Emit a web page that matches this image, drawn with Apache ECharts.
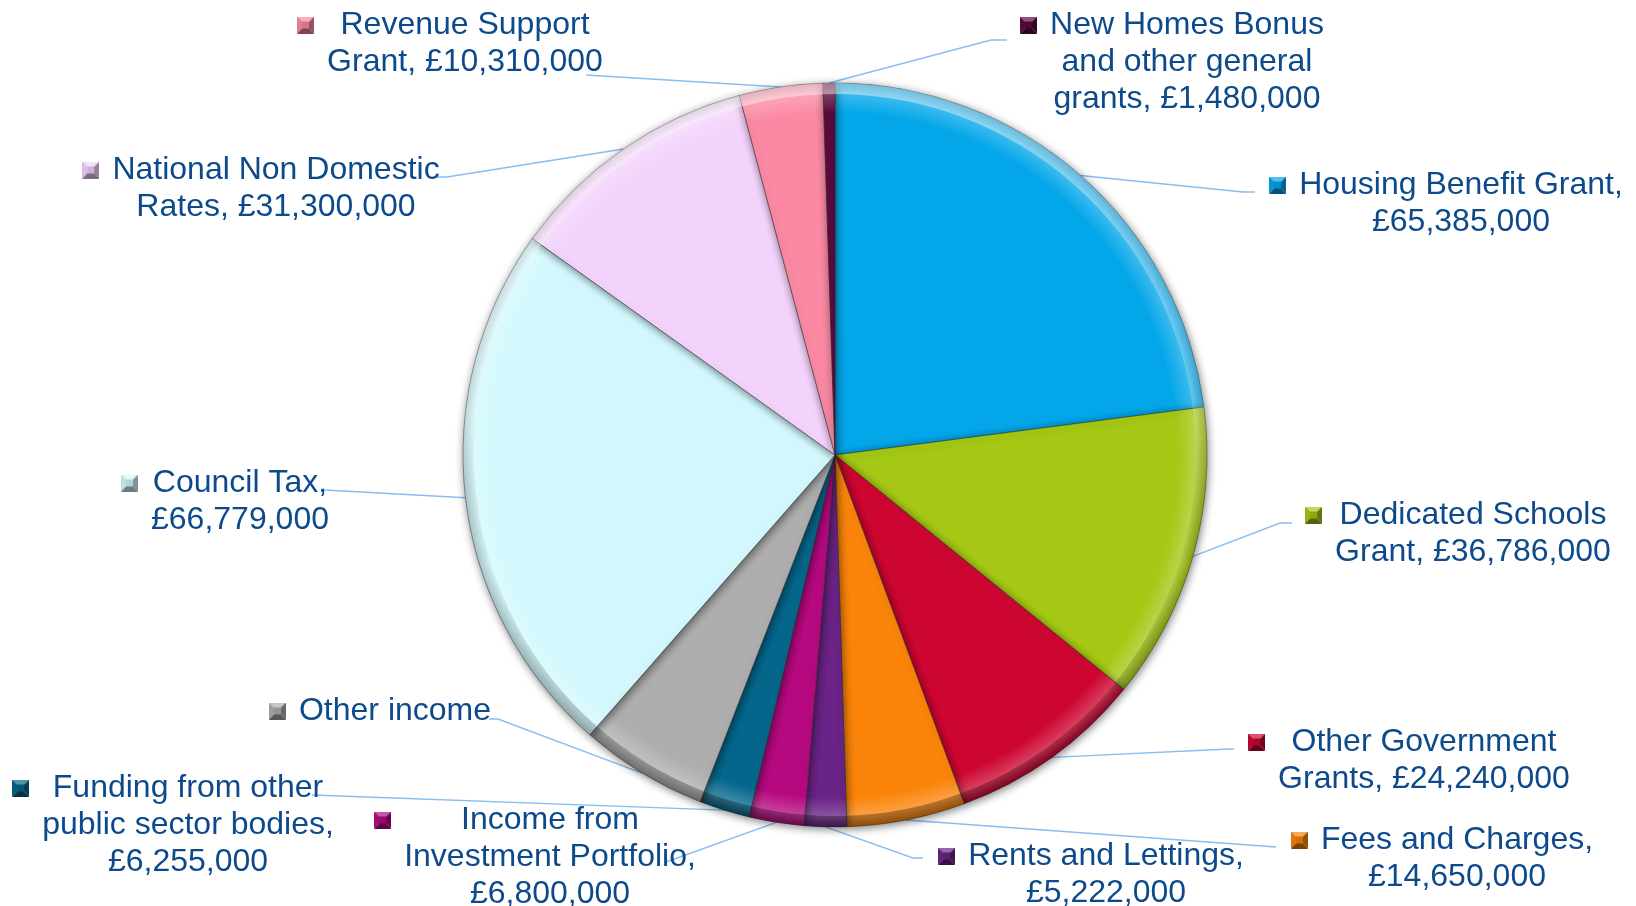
<!DOCTYPE html>
<html>
<head>
<meta charset="utf-8">
<title>Income sources</title>
<script src="https://cdn.jsdelivr.net/npm/echarts@6/dist/echarts.min.js"></script>
<style>
  html, body { margin: 0; padding: 0; background: #fff; }
  #chart { width: 1636px; height: 906px; }
</style>
</head>
<body>
<div id="chart"></div>
<script>
// slices, clockwise from 12 o'clock
const categories = [
  'Housing Benefit Grant',
  'Dedicated Schools Grant',
  'Other Government Grants',
  'Fees and Charges',
  'Rents and Lettings',
  'Income from Investment Portfolio',
  'Funding from other public sector bodies',
  'Other income',
  'Council Tax',
  'National Non Domestic Rates',
  'Revenue Support Grant',
  'New Homes Bonus and other general grants'
];
const amounts = [65385000, 36786000, 24240000, 14650000, 5222000, 6800000, 6255000, 15800000, 66779000, 31300000, 10310000, 1480000];
// "Other income" has no value printed in the label
const showAmount = [true, true, true, true, true, true, true, false, true, true, true, true];

const colors = ['#03A6E9', '#A4C814', '#CD0631', '#FA840A', '#6A2386', '#B6097F',
                '#05668C', '#AEAEAE', '#D2F8FD', '#F3D3FB', '#FB89A4', '#5C0A3E'];

// words on each label line
const wrap = [[3, 1], [2, 2], [2, 2], [3, 1], [3, 1], [2, 2, 1], [3, 3, 1], [2], [2, 1], [3, 2], [2, 2], [3, 3, 2]];

// label spot: text centre x, first line y, leader end x, leader end y, horizontal run
const spots = [
  [1461, 182, 1255, 192, 12],
  [1473, 512, 1292, 523, 12],
  [1424, 739, 1234, 749, 5],
  [1457, 837, 1276, 847, 0],
  [1106, 853, 923, 858, 10],
  [550, 817, 666, 862, 0],
  [188, 785, 312, 795, 0],
  [395, 708, 489, 719, 9],
  [240, 480, 325, 490, 0],
  [276, 167, 437, 177, 10],
  [465, 22, 586, 75, 0],
  [1187, 22, 1007, 40, 16]
];

const CX = 835, CY = 455, R = 372;
const LINE_H = 37;
const TEXT_SHIFT = 3;
const TEXT_COLOR = '#0D4A8C';

function shade(hex, k) {
  const n = parseInt(hex.slice(1), 16);
  let rgb = [(n >> 16) & 255, (n >> 8) & 255, n & 255];
  rgb = rgb.map(v => Math.round(k >= 0 ? v + (255 - v) * k : v * (1 + k)));
  return 'rgb(' + rgb.join(',') + ')';
}

// little bevelled square used as the legend key in each label
function bevelIcon(hex) {
  const c = document.createElement('canvas');
  c.width = 17; c.height = 17;
  const g = c.getContext('2d');
  const tri = (pts, col) => {
    g.fillStyle = col;
    g.beginPath();
    g.moveTo(pts[0], pts[1]); g.lineTo(pts[2], pts[3]); g.lineTo(pts[4], pts[5]);
    g.closePath(); g.fill();
  };
  tri([0, 0, 17, 0, 8.5, 8.5], shade(hex, 0.3));
  tri([0, 0, 0, 17, 8.5, 8.5], shade(hex, -0.1));
  tri([17, 0, 17, 17, 8.5, 8.5], shade(hex, -0.4));
  tri([0, 17, 17, 17, 8.5, 8.5], shade(hex, -0.5));
  g.fillStyle = shade(hex, -0.15);
  g.fillRect(5, 5, 7, 7);
  return c;
}

function money(v) {
  return '£' + String(v).replace(/\B(?=(\d{3})+(?!\d))/g, ',');
}

const rich = {
  t: { align: 'center', color: TEXT_COLOR, fontSize: 32, lineHeight: LINE_H, fontFamily: 'Liberation Sans, Arial, sans-serif' },
  g: { width: 13, align: 'left', lineHeight: LINE_H },
  l: { width: 30, align: 'left', lineHeight: LINE_H },
  s: { width: 30, align: 'right', lineHeight: LINE_H }
};
colors.forEach((c, i) => {
  rich['m' + i] = { width: 17, height: 17, align: 'left', verticalAlign: 'middle', backgroundColor: { image: bevelIcon(c) } };
});

function labelText(p) {
  const i = p.dataIndex;
  let words = categories[i].split(' ');
  if (showAmount[i]) {
    words[words.length - 1] += ',';
    words.push(money(amounts[i]));
  }
  const lines = [];
  let k = 0;
  wrap[i].forEach(n => { lines.push(words.slice(k, k + n).join(' ')); k += n; });
  return lines.map((ln, j) => j === 0
    ? '{m' + i + '|}{g|}{t|' + ln + '}{s|}'
    : '{l|}{t|' + ln + '}{s|}').join('\n');
}

const pieData = categories.map((name, i) => ({
  name: name,
  value: amounts[i],
  itemStyle: {
    color: new echarts.graphic.RadialGradient(CX, CY, R, [
      { offset: 0, color: colors[i] },
      { offset: 0.92, color: colors[i] },
      { offset: 0.97, color: shade(colors[i], 0.22) },
      { offset: 1, color: shade(colors[i], -0.15) }
    ], true)
  }
}));

const chart = echarts.init(document.getElementById('chart'), null, { renderer: 'canvas' });

chart.setOption({
  backgroundColor: '#ffffff',
  animation: false,
  series: [
    {
      type: 'pie',
      center: [CX, CY],
      radius: R,
      startAngle: 90,
      clockwise: true,
      avoidLabelOverlap: false,
      data: pieData,
      itemStyle: {
        borderColor: 'rgba(40,40,40,0.45)',
        borderWidth: 1,
        shadowBlur: 8,
        shadowColor: 'rgba(0,0,0,0.5)',
        shadowOffsetX: 1,
        shadowOffsetY: 2
      },
      label: {
        show: true,
        position: 'outside',
        formatter: labelText,
        lineHeight: LINE_H,
        rich: rich
      },
      labelLine: {
        show: true,
        length: 10,
        length2: 10,
        lineStyle: { color: '#86BEF3', width: 1.4 }
      },
      labelLayout: function (p) {
        const i = p.dataIndex;
        const s = spots[i];
        const n = wrap[i].length;
        const onRight = s[0] > CX;
        const elbow = [s[2] + (onRight ? -s[4] : s[4]), s[3]];
        const anchor = p.labelLinePoints ? p.labelLinePoints[0] : elbow;
        return {
          x: s[0],
          y: s[1] + TEXT_SHIFT + (n - 1) * LINE_H / 2,
          align: 'center',
          verticalAlign: 'middle',
          labelLinePoints: [anchor, elbow, [s[2], s[3]]]
        };
      },
      emphasis: { disabled: true }
    },
    {
      // rim highlight / shade giving the bevelled edge
      type: 'pie',
      silent: true,
      center: [CX, CY],
      radius: [R - 11, R],
      startAngle: 90,
      clockwise: true,
      label: { show: false },
      labelLine: { show: false },
      data: categories.map((name, i) => ({ name: name, value: amounts[i] })),
      itemStyle: {
        borderWidth: 0,
        color: new echarts.graphic.LinearGradient(0, CY - R, 0, CY + R, [
          { offset: 0, color: 'rgba(255,255,255,0.45)' },
          { offset: 0.45, color: 'rgba(255,255,255,0.18)' },
          { offset: 0.65, color: 'rgba(0,0,0,0.04)' },
          { offset: 1, color: 'rgba(0,0,0,0.3)' }
        ], true)
      },
      emphasis: { disabled: true }
    }
  ]
});
</script>
</body>
</html>
